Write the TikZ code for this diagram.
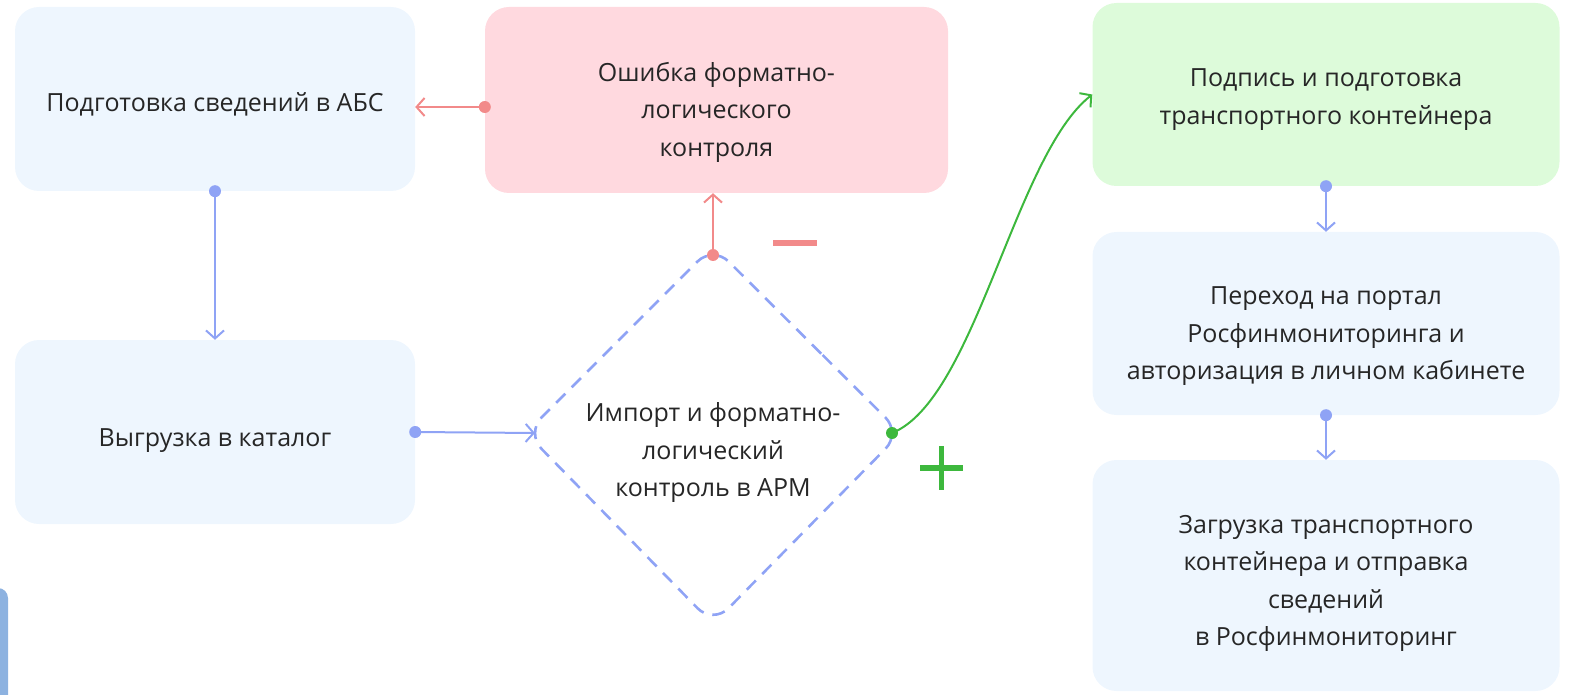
\documentclass[tikz,border=0pt]{standalone}
\usepackage{fontspec}
\setmainfont{Open Sans}
\usetikzlibrary{arrows.meta,calc}
\definecolor{boxblue}{HTML}{EEF6FE}
\definecolor{boxpink}{HTML}{FFD9DF}
\definecolor{boxgreen}{HTML}{DDFBDA}
\definecolor{lineblue}{HTML}{8FA3F5}
\definecolor{linered}{HTML}{F28A8A}
\definecolor{linegreen}{HTML}{3DB83D}
\definecolor{barblue}{HTML}{8DB2E0}
\tikzset{
  txt/.style={align=center, font=\fontsize{25}{37.5}\selectfont, text=black!85, inner sep=0pt},
  card/.style={rectangle, rounded corners=24pt, draw=none},
  bluecard/.style={card, fill=boxblue},
  conn/.style={line width=2pt, -{Straight Barb[length=8pt,width=18pt,line width=2pt]}},
  dotc/.style={radius=6pt},
}
\begin{document}
\begin{tikzpicture}[x=1pt,y=-1pt]
\useasboundingbox (0,0) rectangle (1575,695);
\fill[barblue, rounded corners=10pt] (-20,588) rectangle (8,720);
% boxes
\node[bluecard, minimum width=400pt, minimum height=184pt,
  label={[txt, yshift=-5pt]center:Подготовка сведений в АБС}] (A) at (215,99) {};
\node[card, fill=boxpink, minimum width=463pt, minimum height=186pt,
  label={[txt, yshift=-12pt]center:{Ошибка форматно-\\логического\\контроля}}] (B) at (716.5,100) {};
\node[card, fill=boxgreen, minimum width=467pt, minimum height=183pt,
  label={[txt, yshift=-5pt]center:{Подпись и подготовка\\транспортного контейнера}}] (C) at (1326,94.5) {};
\node[bluecard, minimum width=467pt, minimum height=183pt,
  label={[txt, yshift=-13pt]center:{Переход на портал\\Росфинмониторинга и\\авторизация в личном кабинете}}] (D) at (1326,323.5) {};
\node[bluecard, minimum width=467pt, minimum height=231pt,
  label={[txt, yshift=-8pt]center:{Загрузка транспортного\\контейнера и отправка\\сведений\\в Росфинмониторинг}}] (E) at (1326,575.5) {};
\node[bluecard, minimum width=400pt, minimum height=184pt,
  label={[txt, yshift=-9pt]center:Выгрузка в каталог}] (F) at (215,432) {};
% decision diamond
\node[txt] (G) at (713,453) {Импорт и форматно-\\логический\\контроль в АРМ};
\coordinate (Gn) at (713,255);
\coordinate (Ge) at (892,433);
\coordinate (Gs) at (713,615);
\coordinate (Gw) at (535,433);
\coordinate (Kn) at ($(Gn)+(0,-9)$);
\coordinate (Ke) at ($(Ge)+(9,0)$);
\coordinate (Ks) at ($(Gs)+(0,9)$);
\coordinate (Kw) at ($(Gw)+(-9,0)$);
\draw[lineblue, line width=2.6pt, dash pattern=on 13pt off 9pt, rounded corners=22pt]
  ($(Kn)!0.5!(Ke)$) -- (Ke) -- (Ks) -- (Kw) -- (Kn) -- cycle;
% connectors
\draw[conn, lineblue] (A.south) -- (F.north);
\fill[lineblue] (A.south) circle[dotc];
\coordinate (Bw) at ($(B.west)+(0,7)$);
\draw[conn, linered] (Bw) -- (Bw -| A.east);
\fill[linered] (Bw) circle[dotc];
\draw[conn, lineblue] (F.east) -- (Gw);
\fill[lineblue] (F.east) circle[dotc];
\draw[conn, linered] (Gn) -- (Gn |- B.south);
\fill[linered] (Gn) circle[dotc];
\draw[conn, linegreen] (Ge) .. controls (975,400) and (1015,155) .. (C.west);
\fill[linegreen] (Ge) circle[dotc];
\draw[conn, lineblue] (C.south) -- (D.north);
\fill[lineblue] (C.south) circle[dotc];
\draw[conn, lineblue] (D.south) -- (E.north);
\fill[lineblue] (D.south) circle[dotc];
% signs
\draw[linered, line width=6pt] (773,243) -- (817,243);
\draw[linegreen, line width=5.5pt] (920,468) -- (963,468) (941.5,446) -- (941.5,490);
\end{tikzpicture}
\end{document}
